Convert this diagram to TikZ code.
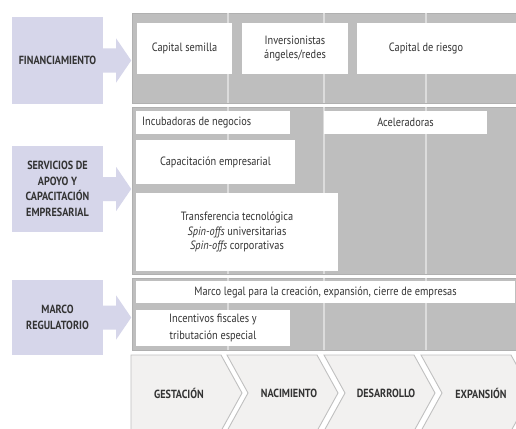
\documentclass[tikz,border=0pt]{standalone}
\usepackage{fontspec}
\setmainfont{PT Sans}[FakeStretch=0.86]
\usepackage{tikz}

\definecolor{lavanda}{HTML}{D6D6EA}
\definecolor{panel}{HTML}{BEBEBE}
\definecolor{borde}{HTML}{B0B0B0}
\definecolor{columna}{HTML}{DCDCDC}
\definecolor{etapa}{HTML}{F2F1F0}
\definecolor{texto}{HTML}{333333}

\begin{document}
\begin{tikzpicture}[x=1pt,y=-1pt,
	panelbox/.style={fill=panel,draw=borde,line width=0.8pt},
	colline/.style={draw=columna,line width=1.4pt},
	caja/.style={shape=rectangle,fill=white,inner sep=0pt,text=texto,align=center,
		font=\fontsize{12}{14.5}\selectfont},
	etiqueta/.style={shape=rectangle,fill=lavanda,inner sep=0pt,text=texto,align=center,
		minimum width=91pt,font=\bfseries\fontsize{11.8}{15.5}\selectfont},
	flecha/.style={fill=lavanda},
	etapabox/.style={fill=etapa,draw=borde!80,line width=0.9pt},
	etapatxt/.style={text=texto,font=\bfseries\fontsize{11.8}{12}\selectfont}]

	\clip (0,0) rectangle (516,428);
	\fill[white] (0,0) rectangle (516,428);

	% paneles grises
	\path[panelbox] (132,13) rectangle (522,103);
	\path[panelbox] (132,107) rectangle (522,274);
	\path[panelbox] (132,278) rectangle (522,350);

	\draw[colline] (228,13) -- (228,103) (228,107) -- (228,274) (228,278) -- (228,350);
	\draw[colline] (324,13) -- (324,103) (324,107) -- (324,274) (324,278) -- (324,350);
	\draw[colline] (426,13) -- (426,103) (426,107) -- (426,274) (426,278) -- (426,350);

	% etiquetas con flecha
	\node[etiqueta,minimum height=87pt] (fin) at (57.5,60.5) {FINANCIAMIENTO};
	\node[etiqueta,minimum height=86pt] (srv) at (57.5,189) {SERVICIOS DE\\APOYO Y\\CAPACITACIÓN\\EMPRESARIAL};
	\node[etiqueta,minimum height=75pt] (mar) at (57.5,317.5) {MARCO\\REGULATORIO};

	\fill[flecha] (fin.east) ++(0,-12) -- ++(13,0) -- ++(0,-10) -- ++(15,22) -- ++(-15,22) -- ++(0,-10) -- ++(-13,0) -- cycle;
	\fill[flecha] (srv.east) ++(0,-12) -- ++(13,0) -- ++(0,-10) -- ++(15,22) -- ++(-15,22) -- ++(0,-10) -- ++(-13,0) -- cycle;
	\fill[flecha] (mar.east) ++(0,-12) -- ++(13,0) -- ++(0,-10) -- ++(15,22) -- ++(-15,22) -- ++(0,-10) -- ++(-13,0) -- cycle;

	% financiamiento
	\node[caja,minimum width=95pt,minimum height=51pt] (semilla) at (184.5,48.5) {Capital semilla};
	\node[caja,minimum width=106pt,minimum height=51pt] (angeles) at (295,48.5) {Inversionistas\\ángeles/redes};
	\node[caja,minimum width=165pt,minimum height=51pt] (riesgo) at (439.5,48.5) {};
	\node[caja,fill=none] (riesgotxt) at (426,48.5) {Capital de riesgo};

	% servicios de apoyo
	\node[caja,minimum width=154pt,minimum height=23pt] (incubadoras) at (213,122.5) {};
	\node[caja,fill=none,anchor=west] (incubadorastxt) at (142,122.5) {Incubadoras de negocios};
	\node[caja,minimum width=163pt,minimum height=23pt] (aceleradoras) at (405.5,122.5) {Aceleradoras};
	\node[caja,minimum width=159pt,minimum height=44pt] (capacitacion) at (215.5,162) {Capacitación empresarial};
	\node[caja,minimum width=202pt,minimum height=78pt] (transferencia) at (237,232)
		{Transferencia tecnológica\\\textit{Spin-offs} universitarias\\\textit{Spin-offs} corporativas};

	% marco regulatorio
	\node[caja,minimum width=379pt,minimum height=22pt] (marcolegal) at (325.5,292)
		{Marco legal para la creación, expansión, cierre de empresas};
	\node[caja,minimum width=154pt,minimum height=36pt,font=\fontsize{12}{16.5}\selectfont] (incentivos) at (213,328)
		{Incentivos fiscales y\\tributación especial};

	% etapas
	\path[etapabox] (131,355) -- (221,355) -- (242,393) -- (221,431) -- (131,431) -- cycle;
	\path[etapabox] (227,355) -- (317,355) -- (338,393) -- (317,431) -- (227,431) -- (248,393) -- cycle;
	\path[etapabox] (324,355) -- (414,355) -- (435,393) -- (414,431) -- (324,431) -- (345,393) -- cycle;
	\path[etapabox] (421,355) -- (511,355) -- (532,393) -- (511,431) -- (421,431) -- (442,393) -- cycle;

	\node[etapatxt] (gestacion) at (179,393) {GESTACIÓN};
	\node[etapatxt] (nacimiento) at (289,393) {NACIMIENTO};
	\node[etapatxt] (desarrollo) at (386,393) {DESARROLLO};
	\node[etapatxt] (expansion) at (481,393) {EXPANSIÓN};

\end{tikzpicture}
\end{document}
